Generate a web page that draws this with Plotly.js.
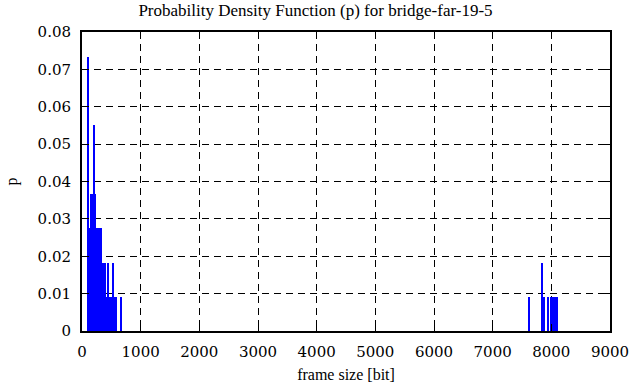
<!DOCTYPE html>
<html>
<head>
<meta charset="utf-8">
<script src="https://cdn.plot.ly/plotly-3.0.1.min.js"></script>
<style>html,body{margin:0;padding:0;background:#fff;}#chart{width:631px;height:387px;}</style>
</head>
<body>
<div id="chart"></div>
<script>
// frame sizes (bit) and their probabilities
var frameSize = [100, 125, 150, 170, 205, 227, 256, 290, 324, 358, 392, 418, 443, 477, 503, 528, 563, 580, 665,
                 7621, 7843, 7869, 7945, 7996, 8031, 8065, 8090];
var probability = [0.0734, 0.0275, 0.0367, 0.0367, 0.0550, 0.0367, 0.0275, 0.0275, 0.0275, 0.0183, 0.0183, 0.0092, 0.0183, 0.0092, 0.0092, 0.0183, 0.0092, 0.0092, 0.0092,
                   0.0092, 0.0183, 0.0092, 0.0092, 0.0092, 0.0092, 0.0092, 0.0092];
var xTicks = [0, 1000, 2000, 3000, 4000, 5000, 6000, 7000, 8000, 9000];
var yTicks = [0, 0.01, 0.02, 0.03, 0.04, 0.05, 0.06, 0.07, 0.08];
var yTickText = ['0', '0.01', '0.02', '0.03', '0.04', '0.05', '0.06', '0.07', '0.08'];

var TICKFONT = 'DejaVu Serif';
var TEXTFONT = 'Liberation Serif';
var axisCommon = {
  showgrid: true, gridcolor: '#000', gridwidth: 1, griddash: '7px,5px',
  showline: true, linecolor: '#000', linewidth: 2, mirror: 'allticks',
  ticks: 'inside', ticklen: 7, tickwidth: 1, tickcolor: '#000',
  zeroline: false, tickfont: {family: TICKFONT, size: 15, color: '#000'}
};

var trace = {
  type: 'bar', x: frameSize, y: probability, width: 34,
  marker: {color: '#0000ff', line: {width: 0}}, hoverinfo: 'x+y'
};

var layout = {
  width: 631, height: 387,
  margin: {l: 82, r: 21, t: 32, b: 56, pad: 0},
  paper_bgcolor: '#fff', plot_bgcolor: '#fff', showlegend: false,
  title: {text: 'Probability Density Function (p) for bridge-far-19-5',
          font: {family: TEXTFONT, size: 17, color: '#000'},
          x: 0.5, xref: 'container', xanchor: 'center',
          y: 0.974, yref: 'container', yanchor: 'middle'},
  bargap: 0
};
layout.xaxis = Object.assign({}, axisCommon, {
  range: [0, 9000], tickvals: xTicks, ticktext: xTicks.map(String), ticklabelstandoff: 6,
  title: {text: 'frame size [bit]', font: {family: TEXTFONT, size: 16, color: '#000'}, standoff: 9}
});
layout.yaxis = Object.assign({}, axisCommon, {
  range: [0, 0.08], tickvals: yTicks, ticktext: yTickText, ticklabelstandoff: 6,
  title: {text: 'p', font: {family: TEXTFONT, size: 16, color: '#000'}, standoff: 16}
});

Plotly.newPlot('chart', [trace], layout, {displayModeBar: false, staticPlot: true});
</script>
</body>
</html>
